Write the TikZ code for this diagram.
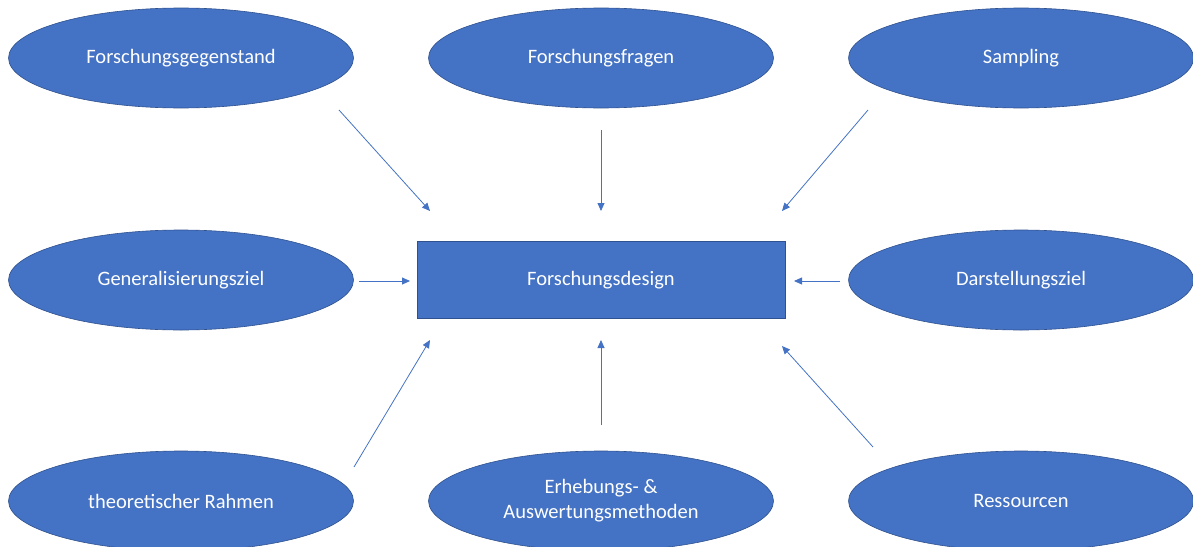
\documentclass[tikz,border=0pt]{standalone}
\usepackage{fontspec}
\setmainfont{Carlito}
\usetikzlibrary{shapes.geometric,arrows.meta}
\definecolor{fill}{HTML}{4472C4}
\definecolor{edge}{HTML}{2F528F}
\tikzset{
  oval/.style={ellipse, fill=fill, draw=edge, line width=0.6pt, minimum width=345pt, minimum height=100pt, inner sep=0pt, text=white, font=\fontsize{20.5}{25}\selectfont, align=center},
  box/.style={rectangle, fill=fill, draw=edge, line width=0.6pt, minimum width=368pt, minimum height=77pt, inner sep=0pt, text=white, font=\fontsize{20.5}{25}\selectfont},
  arr/.style={draw=fill, line width=0.8pt, -{Triangle[length=8pt,width=7pt]}}
}
\begin{document}
\begin{tikzpicture}[x=1pt,y=-1pt]
\useasboundingbox (0,0) rectangle (1193,546);
\clip (0,0) rectangle (1193,546);
\node[oval] (fg) at (181,58) {Forschungsgegenstand};
\node[oval] (ff) at (601,58) {Forschungsfragen};
\node[oval] (sa) at (1021,58) {Sampling};
\node[oval] (gz) at (181,280) {Generalisierungsziel};
\node[box] (fd) at (601,280) {Forschungsdesign};
\node[oval] (dz) at (1021,280) {Darstellungsziel};
\node[oval] (tr) at (181,501) {theoretischer Rahmen};
\node[oval] (em) at (601,501) {Erhebungs- \&\\Auswertungsmethoden};
\node[oval] (rs) at (1021,501) {Ressourcen};
\coordinate (a1s) at (339,110); \coordinate (a1e) at (430,211);
\coordinate (a2s) at (601,130); \coordinate (a2e) at (601,211);
\coordinate (a3s) at (868,110); \coordinate (a3e) at (782,211);
\coordinate (a4s) at (359,281); \coordinate (a4e) at (410,281);
\coordinate (a5s) at (840,281); \coordinate (a5e) at (794,281);
\coordinate (a6s) at (354,467); \coordinate (a6e) at (430,340);
\coordinate (a7s) at (601,425); \coordinate (a7e) at (601,340);
\coordinate (a8s) at (873,447); \coordinate (a8e) at (782,346);
\foreach \i in {1,...,8} { \draw[arr] (a\i s) -- (a\i e); }
\end{tikzpicture}
\end{document}
